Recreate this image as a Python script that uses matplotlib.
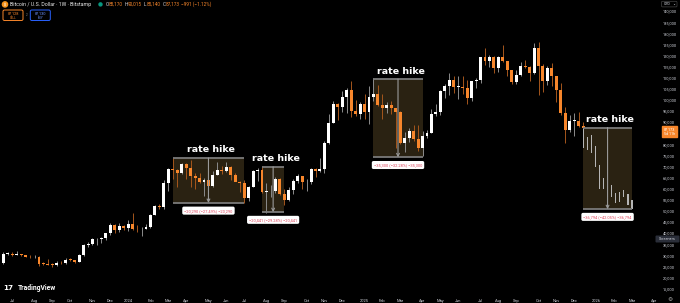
import numpy as np
import pandas as pd
import matplotlib
matplotlib.use('Agg')
import matplotlib.pyplot as plt
from matplotlib.patches import Rectangle, FancyBboxPatch, Circle

plt.rcParams['font.family'] = ['Roboto', 'DejaVu Sans']

# weekly BTC/USD (Bitstamp) candles in thousand USD, first week starts 2023-06-12
opens = [25.9, 26.3, 30.5, 30.6, 30.3, 30.4, 30.1, 29.3, 29.1, 29.4, 26.1, 26.0, 25.8, 25.7,
         26.5, 26.3, 27.9, 27.8, 27.0, 29.9, 34.5, 35.0, 37.1, 37.4, 37.7, 39.9, 43.8, 41.4,
         43.0, 42.3, 43.9, 41.8, 41.6, 42.0, 42.6, 48.3, 52.1, 51.7, 62.4, 68.9, 68.4, 67.2,
         71.3, 69.4, 65.6, 64.9, 63.1, 63.9, 61.0, 66.3, 68.5, 67.7, 69.6, 66.2, 62.9, 62.3,
         55.8, 60.8, 68.0, 68.3, 58.4, 58.7, 58.9, 64.2, 57.6, 54.8, 59.2, 63.4, 65.6, 62.8,
         62.9, 69.0, 68.0, 68.7, 80.4, 89.6, 97.9, 96.9, 101.3, 104.4, 95.0, 93.6, 98.3, 94.5,
         101.3, 102.6, 97.7, 96.5, 97.5, 96.3, 94.3, 80.7, 82.6, 86.1, 82.3, 78.4, 83.8, 85.2,
         93.8, 94.3, 104.0, 106.2, 109.0, 105.7, 105.8, 105.1, 100.9, 108.3, 109.0, 119.1,
         117.3, 119.4, 114.2, 119.3, 117.5, 113.5, 108.2, 111.2, 115.3, 114.8, 112.0, 123.5,
         115.0, 108.6, 114.5, 110.5, 104.4, 94.0, 86.6, 90.4, 90.5, 88.2]
highs = [26.8, 31.4, 31.3, 31.5, 31.8, 30.4, 30.3, 29.9, 30.2, 29.7, 26.8, 28.1, 26.4, 27.5,
         27.4, 28.6, 28.6, 28.0, 30.5, 35.2, 36.0, 37.9, 37.9, 38.4, 40.2, 44.7, 44.0, 44.3,
         43.8, 45.9, 49.0, 43.6, 42.8, 43.9, 48.6, 52.8, 52.9, 64.0, 69.2, 73.8, 68.9, 71.7,
         71.5, 72.7, 66.9, 67.2, 64.7, 65.5, 67.7, 71.9, 70.0, 71.9, 70.2, 66.9, 63.4, 63.8,
         61.3, 68.4, 69.4, 70.0, 62.7, 61.8, 65.0, 64.9, 59.8, 60.6, 64.1, 66.5, 65.6, 64.4,
         69.4, 69.5, 73.6, 81.5, 93.5, 99.6, 98.7, 104.0, 105.3, 108.3, 99.9, 99.0, 102.7,
         106.4, 109.6, 106.5, 102.5, 98.8, 99.5, 96.5, 95.0, 85.3, 87.5, 88.8, 88.5, 86.1,
         86.4, 95.8, 97.9, 104.2, 107.1, 112.0, 110.7, 110.5, 110.6, 108.9, 108.5, 110.0,
         119.5, 123.2, 120.2, 119.8, 119.6, 124.5, 117.6, 113.6, 113.4, 116.8, 117.9, 115.4,
         125.7, 126.2, 116.0, 115.0, 116.4, 110.8, 107.5, 96.6, 93.1, 94.2, 94.6, 90.0]
lows = [24.8, 26.2, 29.9, 29.7, 29.9, 29.5, 29.0, 28.6, 28.7, 25.2, 25.8, 25.4, 24.9, 25.0,
        26.0, 26.0, 27.2, 26.5, 26.9, 29.7, 33.9, 34.5, 34.8, 35.6, 36.7, 39.3, 40.2, 40.6,
        41.4, 40.8, 41.5, 40.3, 38.5, 41.9, 42.3, 48.1, 50.6, 50.9, 59.0, 64.5, 60.8, 66.5,
        64.5, 60.7, 59.7, 62.5, 56.5, 60.2, 60.6, 66.1, 66.6, 67.5, 64.0, 63.4, 58.4, 53.5,
        54.3, 60.6, 63.4, 58.0, 49.1, 56.1, 57.9, 57.2, 52.6, 54.6, 57.5, 62.7, 59.8, 58.9,
        62.0, 65.1, 67.4, 66.8, 80.3, 89.4, 90.8, 94.5, 94.2, 92.2, 92.5, 91.5, 91.2, 89.3,
        99.5, 97.3, 91.2, 94.1, 93.4, 78.2, 80.0, 76.6, 81.2, 81.6, 77.1, 74.5, 83.0, 85.1,
        92.8, 93.3, 100.7, 102.0, 103.1, 100.4, 102.6, 98.2, 99.6, 105.1, 107.5, 115.7,
        114.7, 112.0, 112.7, 116.8, 110.6, 107.3, 107.3, 110.7, 114.4, 108.6, 111.6, 102.0,
        103.5, 106.7, 106.3, 98.9, 93.0, 80.6, 85.3, 83.8, 87.6, 85.1]
closes = [26.3, 30.5, 30.6, 30.3, 30.4, 30.1, 29.3, 29.1, 29.4, 26.1, 26.0, 25.8, 25.7, 26.5,
          26.3, 27.9, 27.8, 27.0, 29.9, 34.5, 35.0, 37.1, 37.4, 37.7, 39.9, 43.8, 41.4, 43.0,
          42.3, 43.9, 41.8, 41.6, 42.0, 42.6, 48.3, 52.1, 51.7, 62.4, 68.9, 68.4, 67.2, 71.3,
          69.4, 65.6, 64.9, 63.1, 63.9, 61.0, 66.3, 68.5, 67.7, 69.6, 66.2, 62.9, 62.3, 55.8,
          60.8, 68.0, 68.3, 58.4, 58.7, 58.9, 64.2, 57.6, 54.8, 59.2, 63.4, 65.6, 62.8, 62.9,
          69.0, 68.0, 68.7, 80.4, 89.6, 97.9, 96.9, 101.3, 104.4, 95.0, 93.6, 98.3, 94.5,
          101.3, 102.6, 97.7, 96.5, 97.5, 96.3, 94.3, 80.7, 82.6, 86.1, 82.3, 78.4, 83.8, 85.2,
          93.8, 94.3, 104.0, 106.2, 109.0, 105.7, 105.8, 105.1, 100.9, 108.3, 109.0, 119.1,
          117.3, 119.4, 114.2, 119.3, 117.5, 113.5, 108.2, 111.2, 115.3, 114.8, 112.0, 123.5,
          115.0, 108.6, 114.5, 110.5, 104.4, 94.0, 86.6, 90.4, 90.5, 88.2, 87.2]

# projected bars drawn in the last box (high / low, thousand USD)
proj_high = [87.5, 83.4, 84.1, 79.2, 70.6, 64.6, 61.2, 61.6, 57.9, 58.6, 59.4, 57.6, 54.9]
proj_low = [78.1, 77.4, 76.2, 69.6, 59.7, 59.7, 56.3, 56.3, 53.6, 54.1, 56.3, 52.6, 50.7]

# "rate hike" price ranges
box_start = ['2024-03-11', '2024-07-29', '2025-01-20', '2025-12-15']
box_end = ['2024-07-01', '2024-09-02', '2025-04-07', None]
box_top = [73.81, 69.81, 109.36, 87.50]
box_drop = [20.290, 20.441, 35.300, 36.794]
box_pct = [27.49, 29.28, 32.28, 42.05]

price_ticks = np.arange(15, 141, 5)

UP = '#ffffff'
DOWN = '#f7862b'
BG = '#000000'
TXT = '#d1d4dc'

dates = pd.date_range('2023-06-12', periods=len(opens), freq='7D')
proj_dates = dates[-1] + pd.to_timedelta(np.arange(len(proj_high)) * 6.4, unit='D')

fig = plt.figure(figsize=(6.8, 3.03), dpi=100, facecolor=BG)
ax = fig.add_axes([0, 9 / 303, 657 / 680, 294 / 303])
ax.set_facecolor(BG)
for s in ax.spines.values():
    s.set_visible(False)

o = np.array(opens)
c = np.array(closes)
up = c >= o
body_lo = np.minimum(o, c)
body_h = np.maximum(np.abs(c - o), 0.3)
ax.vlines(dates, lows, highs, colors=np.where(up, '#8c8c8c', '#a5561c'), lw=0.7, zorder=2)
ax.bar(dates, body_h, bottom=body_lo, width=4.6, color=np.where(up, UP, DOWN),
       linewidth=0, zorder=3)

# range boxes
for i in range(len(box_top)):
    x0 = pd.Timestamp(box_start[i])
    x1 = pd.Timestamp(box_end[i]) if box_end[i] else proj_dates[-1]
    top = box_top[i]
    bot = top - box_drop[i]
    mid = x0 + (x1 - x0) / 2
    ax.add_patch(Rectangle((x0, bot), x1 - x0, top - bot, facecolor='#2a2212',
                           edgecolor='none', zorder=1))
    ax.hlines([top, bot], x0, x1, colors='#7a7a7a', lw=1.3, zorder=4)
    ax.annotate('', xy=(mid, bot), xytext=(mid, top),
                arrowprops=dict(arrowstyle='->', color='#9a9a9a', lw=0.8,
                                mutation_scale=5, shrinkA=0, shrinkB=0), zorder=4)
    ax.annotate('rate hike', xy=(mid, top), xytext=(2, 2.5), textcoords='offset points',
                ha='center', va='bottom', color='white', fontsize=6.8, fontweight='bold',
                family=['DejaVu Sans'])
    d = box_drop[i] * 1000
    ax.annotate(f'\u2212{d:,.0f} (\u2212{box_pct[i]:.2f}%) \u2212{d:,.0f}', xy=(mid, bot),
                xytext=(0, -5.5), textcoords='offset points', ha='center', va='center',
                color='#e0475e', fontsize=2.9,
                bbox=dict(boxstyle='round,pad=0.5,rounding_size=0.4', fc='white', ec='none'))

# projected bars
ax.bar(proj_dates, np.array(proj_high) - np.array(proj_low), bottom=proj_low, width=1.8,
       color='#b5b5b5', linewidth=0, zorder=3)

# axes
d0 = pd.Timestamp('2023-06-19')
left = d0 - pd.Timedelta(weeks=3.3 / 4.46)
right = left + pd.Timedelta(weeks=657 / 4.46)
ax.set_xlim(left, right)
ax.set_ylim(12.52, 144.95)

ax.yaxis.tick_right()
ax.set_yticks(price_ticks)
ax.set_yticklabels([f'{v * 1000:,.0f}' for v in price_ticks])
ax.tick_params(axis='y', length=0, pad=4.2, labelsize=2.9, labelcolor=TXT)

allweeks = pd.date_range('2023-06-12', right, freq='7D')
first = [d for k, d in enumerate(allweeks[1:]) if d.month != allweeks[k].month]
ax.set_xticks(first)
ax.set_xticklabels([str(d.year) if d.month == 1 else d.strftime('%b') for d in first])
ax.tick_params(axis='x', length=0, pad=3.4, labelsize=2.9, labelcolor=TXT)

# overlay in pixel units for the TradingView chrome
ov = fig.add_axes([0, 0, 1, 1], zorder=5)
ov.set_xlim(0, 680)
ov.set_ylim(303, 0)
ov.axis('off')
ov.patch.set_alpha(0)

ov.add_patch(Circle((5, 4.4), 2.6, color='#f7931a'))
ov.text(5, 4.5, '\u20bf', color='white', fontsize=2.6, ha='center', va='center',
        family=['Noto Sans', 'DejaVu Sans'], fontweight='bold')
ov.text(10, 4.4, 'Bitcoin / U.S. Dollar \u00b7 1W \u00b7 Bitstamp', color='#e8e8e8',
        fontsize=3.8, va='center')
ov.add_patch(Circle((100.5, 4.4), 1.5, color='#089981'))
parts = [('O', TXT), ('88,170', DOWN), ('H', TXT), ('90,015', DOWN), ('L', TXT),
         ('85,140', DOWN), ('C', TXT), ('87,173', DOWN), ('\u2212991 (\u22121.12%)', DOWN)]
t = ov.text(105.5, 4.4, parts[0][0], color=parts[0][1], fontsize=3.4, va='center')
for k, (s, col) in enumerate(parts[1:]):
    gap = 1.4 if col == TXT or k == len(parts) - 2 else 0
    t = ov.annotate(s, xy=(1, 0.5), xycoords=t, xytext=(gap, 0), textcoords='offset points',
                    va='center', ha='left', color=col, fontsize=3.4)

ov.add_patch(FancyBboxPatch((3, 10), 20, 10.5, boxstyle='round,pad=0,rounding_size=1.5',
                            fc='none', ec=DOWN, lw=0.7))
ov.text(13, 13.4, '87,128', color=DOWN, fontsize=2.8, ha='center', va='center')
ov.text(13, 17.6, 'SELL', color=DOWN, fontsize=2.2, ha='center', va='center')
ov.text(26.6, 15.2, '2', color='#888888', fontsize=2.2, ha='center', va='center')
ov.add_patch(FancyBboxPatch((30.3, 10), 20, 10.5, boxstyle='round,pad=0,rounding_size=1.5',
                            fc='none', ec='#2962ff', lw=0.7))
ov.text(40.3, 13.4, '87,130', color='#6f93ff', fontsize=2.8, ha='center', va='center')
ov.text(40.3, 17.6, 'BUY', color='#6f93ff', fontsize=2.2, ha='center', va='center')

ov.add_patch(FancyBboxPatch((661.5, 1.3), 15.5, 5.6, boxstyle='round,pad=0,rounding_size=1',
                            fc='none', ec='#444444', lw=0.5))
ov.text(667, 4.1, 'USD', color=TXT, fontsize=2.6, ha='center', va='center')
ov.text(674, 4.1, '\u2304', color=TXT, fontsize=2.6, ha='center', va='center',
        family=['DejaVu Sans'])

ov.add_patch(Rectangle((661.5, 126), 15.5, 10.6, color=DOWN))
ov.text(669.2, 129.3, '87,173', color='white', fontsize=2.8, ha='center', va='center')
ov.text(669.2, 133.9, '5d 11h', color='white', fontsize=2.6, ha='center', va='center')

ov.add_patch(FancyBboxPatch((655.5, 235.5), 24, 7, boxstyle='round,pad=0,rounding_size=1',
                            fc='#2a2e39', ec='none'))
ov.text(667.5, 239, 'Screeners', color=TXT, fontsize=2.7, ha='center', va='center')

ov.text(3, 288.5, '17', color='white', fontsize=5.2, fontweight='black', va='center',
        family=['DejaVu Sans'])
ov.text(17.5, 288.5, 'TradingView', color='white', fontsize=4.9, fontweight='bold',
        va='center')
ov.text(670.5, 299.5, '\u2699', color='#aaaaaa', fontsize=4.2, ha='center', va='center',
        family=['DejaVu Sans'])

fig.savefig('out.png', dpi=100, facecolor=BG)
